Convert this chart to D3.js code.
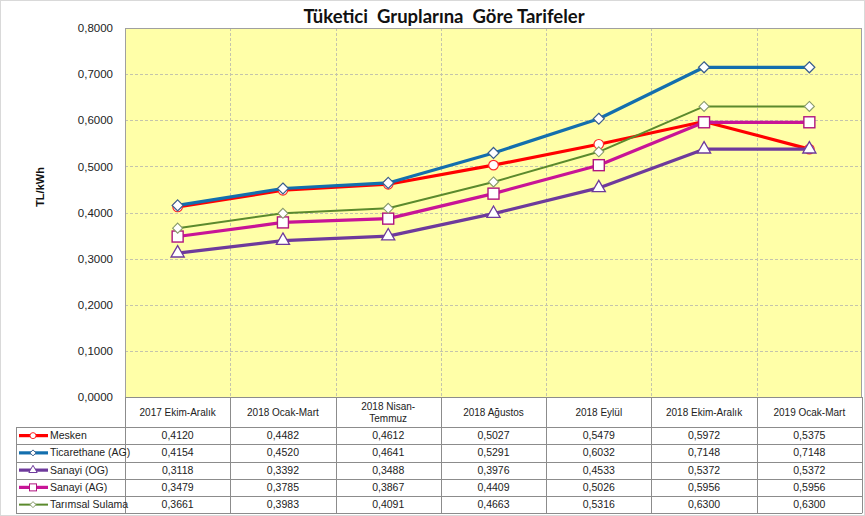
<!DOCTYPE html>
<html><head><meta charset="utf-8">
<script src="https://cdn.jsdelivr.net/npm/d3@7"></script>
<style>body{margin:0;background:#fff;} svg{display:block;}</style>
</head><body>
<svg id="c" width="865" height="516"></svg>
<script>
const categories = ["2017 Ekim-Aralık","2018 Ocak-Mart","2018 Nisan-Temmuz","2018 Ağustos","2018 Eylül","2018 Ekim-Aralık","2019 Ocak-Mart"];
const categoryLines = [["2017 Ekim-Aralık"],["2018 Ocak-Mart"],["2018 Nisan-","Temmuz"],["2018 Ağustos"],["2018 Eylül"],["2018 Ekim-Aralık"],["2019 Ocak-Mart"]];
const mesken = [0.4120,0.4482,0.4612,0.5027,0.5479,0.5972,0.5375];
const ticarethane = [0.4154,0.4520,0.4641,0.5291,0.6032,0.7148,0.7148];
const sanayiOG = [0.3118,0.3392,0.3488,0.3976,0.4533,0.5372,0.5372];
const sanayiAG = [0.3479,0.3785,0.3867,0.4409,0.5026,0.5956,0.5956];
const tarimsal = [0.3661,0.3983,0.4091,0.4663,0.5316,0.6300,0.6300];
const yTicks = [0,0.1,0.2,0.3,0.4,0.5,0.6,0.7,0.8];
const seriesNames = ["Mesken","Ticarethane (AG)","Sanayi (OG)","Sanayi (AG)","Tarımsal Sulama"];

const series = [
  {name:seriesNames[0], values:mesken, color:"#ff0000", stroke:"#ff2a2a", width:3.2, marker:"circle"},
  {name:seriesNames[1], values:ticarethane, color:"#136fae", stroke:"#3a5e8c", width:3.2, marker:"diamond"},
  {name:seriesNames[2], values:sanayiOG, color:"#6e3a9c", stroke:"#6e3a9c", width:3.2, marker:"triangle"},
  {name:seriesNames[3], values:sanayiAG, color:"#c81497", stroke:"#b0157f", width:3.2, marker:"square"},
  {name:seriesNames[4], values:tarimsal, color:"#5b8a2d", stroke:"#889a6a", width:2, marker:"diamondSmall"}
];
const drawOrder = [0,1,2,3,4];

const svg = d3.select("#c");
const font = "'Liberation Sans', Arial, sans-serif";
const L = 125, R = 862, T = 28, B = 397;
const rowTop = 427, rowH = 17.25, legendLeft = 16;

svg.append("rect").attr("x",0.5).attr("y",0.5).attr("width",864).attr("height",515)
  .attr("fill","#fff").attr("stroke","#d9d9d9");

const x = d3.scaleBand().domain(categories).range([L,R]).padding(0);
const y = d3.scaleLinear().domain([0,0.8]).range([B,T]);
const cx = c => x(c) + x.bandwidth()/2;

svg.append("rect").attr("x",L).attr("y",T).attr("width",R-L).attr("height",B-T).attr("fill","#ffffa8");

svg.append("g").selectAll("line").data(yTicks.filter(d=>d>0)).join("line")
  .attr("x1",L).attr("x2",R).attr("y1",d=>Math.round(y(d))+0.5).attr("y2",d=>Math.round(y(d))+0.5)
  .attr("stroke","#c4c4ac").attr("stroke-dasharray","3,2").attr("stroke-width",1);
const bounds = categories.map(c=>x(c)).concat([R]);
svg.append("g").selectAll("line").data(bounds.slice(1,-1)).join("line")
  .attr("x1",d=>Math.round(d)+0.5).attr("x2",d=>Math.round(d)+0.5).attr("y1",T).attr("y2",B)
  .attr("stroke","#c4c4ac").attr("stroke-dasharray","3,2");
svg.append("rect").attr("x",L+0.5).attr("y",T+0.5).attr("width",R-L-1).attr("height",B-T)
  .attr("fill","none").attr("stroke","#a0a0a0");

const yAxis = d3.axisLeft(y).tickValues(yTicks).tickSize(0).tickPadding(12)
  .tickFormat(d=>d3.format(".4f")(d).replace(".",","));
const ya = svg.append("g").attr("transform",`translate(${L},0)`).call(yAxis);
ya.select(".domain").remove();
ya.selectAll("text").attr("font-family",font).attr("font-size",11.5).attr("fill","#222");

svg.append("text").attr("transform","translate(44,187) rotate(-90)").attr("text-anchor","middle")
  .attr("font-family",font).attr("font-weight","bold").attr("font-size",11).attr("fill","#111").text("TL/kWh");

svg.append("text").attr("x",444).attr("y",23).attr("text-anchor","middle")
  .attr("font-family","Lato, 'Open Sans', sans-serif").attr("font-weight","bold").attr("font-size",18.5)
  .attr("fill","#111").attr("xml:space","preserve").text("Tüketici  Gruplarına  Göre Tarifeler");

function marker(g, type, px, py, s){
  const fill = "#fff";
  if(type==="circle") g.append("circle").attr("cx",px).attr("cy",py).attr("r",4.8).attr("fill",fill).attr("stroke",s.stroke).attr("stroke-width",1.2);
  else if(type==="square") g.append("rect").attr("x",px-5.5).attr("y",py-5.5).attr("width",11).attr("height",11).attr("fill",fill).attr("stroke",s.stroke).attr("stroke-width",1.4);
  else if(type==="triangle") g.append("path").attr("d",d3.symbol(d3.symbolTriangle,75)()).attr("transform",`translate(${px},${py})`).attr("fill",fill).attr("stroke",s.stroke).attr("stroke-width",1.3);
  else if(type==="diamond") g.append("path").attr("d",`M${px},${py-5.5}L${px+5.5},${py}L${px},${py+5.5}L${px-5.5},${py}Z`).attr("fill",fill).attr("stroke",s.stroke).attr("stroke-width",1.2);
  else g.append("path").attr("d",`M${px},${py-5}L${px+5},${py}L${px},${py+5}L${px-5},${py}Z`).attr("fill",fill).attr("stroke",s.stroke).attr("stroke-width",1.1);
}

const line = d3.line().x((d,i)=>cx(categories[i])).y(d=>y(d));
const lg = svg.append("g");
drawOrder.forEach(k=>{
  const s = series[k];
  lg.append("path").attr("d",line(s.values)).attr("fill","none").attr("stroke",s.color).attr("stroke-width",s.width).attr("stroke-linejoin","round");
  s.values.forEach((v,i)=>marker(lg, s.marker, cx(categories[i]), y(v), s));
});

const tg = svg.append("g");
const gridColor = "#8c8c8c";
bounds.forEach(b=>{
  tg.append("line").attr("x1",Math.round(b)+0.5).attr("x2",Math.round(b)+0.5).attr("y1",B).attr("y2",rowTop+rowH*5).attr("stroke",gridColor);
});
tg.append("line").attr("x1",legendLeft+0.5).attr("x2",legendLeft+0.5).attr("y1",rowTop).attr("y2",rowTop+rowH*5).attr("stroke",gridColor);
tg.append("line").attr("x1",L).attr("x2",R).attr("y1",B+0.5).attr("y2",B+0.5).attr("stroke",gridColor);
for(let r=0;r<=5;r++){
  const yy = Math.round(rowTop + r*rowH)+0.5;
  tg.append("line").attr("x1",legendLeft).attr("x2",R).attr("y1",yy).attr("y2",yy).attr("stroke",gridColor);
}
categoryLines.forEach((ls,i)=>{
  const t = tg.append("text").attr("x",cx(categories[i])).attr("text-anchor","middle")
    .attr("font-family",font).attr("font-size",10).attr("fill","#222");
  const mid = (B+rowTop)/2 + 3.5;
  ls.forEach((l,j)=>{
    t.append("tspan").attr("x",cx(categories[i])).attr("y", mid + (j-(ls.length-1)/2)*12).text(l);
  });
});
series.forEach((s,r)=>{
  const yc = rowTop + r*rowH + rowH/2;
  tg.append("line").attr("x1",19).attr("x2",48).attr("y1",yc).attr("y2",yc).attr("stroke",s.color).attr("stroke-width",s.width);
  const ms = {circle:"circle",diamond:"diamondS",triangle:"triangle",square:"squareS",diamondSmall:"diamondSmall"}[s.marker];
  if(ms==="circle") tg.append("circle").attr("cx",33).attr("cy",yc).attr("r",3).attr("fill","#fff").attr("stroke",s.stroke);
  else if(ms==="squareS") tg.append("rect").attr("x",29.5).attr("y",yc-3.5).attr("width",7).attr("height",7).attr("fill","#fff").attr("stroke",s.stroke);
  else if(ms==="triangle") tg.append("path").attr("d",d3.symbol(d3.symbolTriangle,30)()).attr("transform",`translate(33,${yc})`).attr("fill","#fff").attr("stroke",s.stroke);
  else tg.append("path").attr("d",`M33,${yc-3}L36,${yc}L33,${yc+3}L30,${yc}Z`).attr("fill","#fff").attr("stroke",s.stroke);
  tg.append("text").attr("x",50).attr("y",yc+3.5).attr("font-family",font).attr("font-size",10.5).attr("fill","#222").text(s.name);
  s.values.forEach((v,i)=>{
    tg.append("text").attr("x",cx(categories[i])).attr("y",yc+3.5).attr("text-anchor","middle")
      .attr("font-family",font).attr("font-size",10.5).attr("fill","#222").text(d3.format(".4f")(v).replace(".",","));
  });
});
</script>
</body></html>
